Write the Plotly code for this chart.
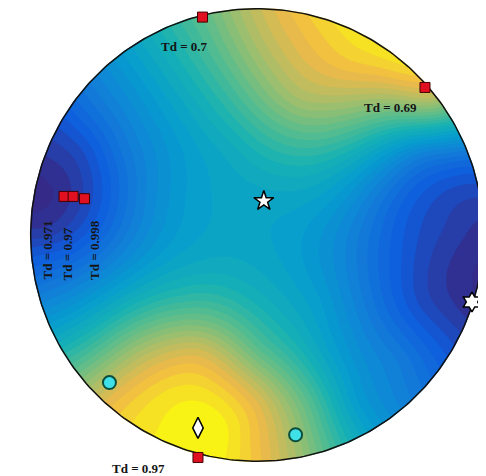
import numpy as np
import plotly.graph_objects as go

# ---- field readings on the unit stereonet (u, v, value 0..1 on colour scale)
field_u = [-0.88, 0.94, -0.23, 0.54, 0.03, -0.38, -0.24, 0.19, 0.76, 0.59, 0.19, -0.12,
           -0.47, -0.74, -0.78, -0.60, -0.38, -0.12, 0.19, 0.41, 0.72, 0.92, -0.69, -0.47,
           -0.25, 0.32, 0.63, 0.85, -0.96, -0.74, -0.52, -0.25, 0.01, 0.32, 0.63, -0.87,
           -0.60, -0.34, -0.03, 0.28, 0.63, 0.72, 0.85, -0.74, -0.52, -0.25, 0.01, 0.32,
           0.63, -0.65, -0.43, 0.01, 0.23, 0.45, -0.43, -0.03, 0.19, -0.93, -0.93, 0.89,
           0.00, 0.41, 0.35, 0.65, -0.10, -0.35, -0.23]
field_v = [0.20, -0.22, -0.84, 0.86, 0.15, 0.88, 0.95, 0.93, 0.59, 0.55, 0.59, 0.64,
           0.64, 0.55, 0.37, 0.37, 0.37, 0.37, 0.37, 0.37, 0.37, 0.33, 0.15, 0.15,
           0.15, 0.15, 0.11, 0.02, -0.07, -0.07, -0.07, -0.07, -0.07, -0.07, -0.11, -0.29,
           -0.29, -0.29, -0.29, -0.29, -0.33, -0.29, -0.42, -0.51, -0.51, -0.51, -0.51, -0.51,
           -0.55, -0.73, -0.73, -0.73, -0.73, -0.73, -0.90, -0.90, -0.90, 0.33, 0.02, -0.33,
           0.90, 0.75, 0.90, 0.70, -0.85, -0.85, -0.70]
field_val = [0.00, 0.00, 1.00, 0.97, 0.42, 0.52, 0.62, 0.88, 0.78, 0.66, 0.75, 0.58,
             0.38, 0.20, 0.08, 0.22, 0.35, 0.45, 0.55, 0.50, 0.28, 0.18, 0.12, 0.30,
             0.40, 0.38, 0.15, 0.06, 0.12, 0.18, 0.32, 0.42, 0.42, 0.32, 0.13, 0.30,
             0.45, 0.55, 0.50, 0.38, 0.15, 0.08, 0.08, 0.58, 0.75, 0.83, 0.62, 0.40,
             0.25, 0.86, 0.95, 0.84, 0.62, 0.36, 0.97, 0.90, 0.72, 0.03, 0.03, 0.03,
             0.78, 0.90, 0.93, 0.90, 0.96, 0.98, 0.95]

# ---- markers
square_u = [-0.24, 0.74, -0.85, -0.81, -0.76, -0.26]
square_v = [0.96, 0.65, 0.17, 0.17, 0.16, -0.98]
cyan_u = [-0.65, 0.17]
cyan_v = [-0.65, -0.88]
diamond_u = [-0.26]
diamond_v = [-0.85]
star_u = [0.03]
star_v = [0.15]
hexa_u = [0.947]
hexa_v = [-0.295]

labels_h = ["Td = 0.7", "Td = 0.69", "Td = 0.97"]
labels_h_u = [-0.32, 0.59, -0.52]
labels_h_v = [0.83, 0.56, -1.03]
labels_v = ["Td = 0.971", "Td = 0.97", "Td = 0.998"]
labels_v_u = [-0.925, -0.833, -0.714]
labels_v_v = [-0.207, -0.207, -0.207]

# ---- smooth surface through the readings (regularised thin plate spline)
pu = np.array(field_u); pv = np.array(field_v); pz = np.array(field_val)
def tps_kernel(d):
    with np.errstate(divide="ignore", invalid="ignore"):
        k = d**2 * np.log(d)
    return np.nan_to_num(k)
n = len(pu)
D = np.hypot(pu[:, None] - pu[None, :], pv[:, None] - pv[None, :])
K = tps_kernel(D) + 0.01 * np.eye(n)
P = np.column_stack([np.ones(n), pu, pv])
A = np.zeros((n + 3, n + 3))
A[:n, :n] = K; A[:n, n:] = P; A[n:, :n] = P.T
b = np.concatenate([pz, np.zeros(3)])
sol = np.linalg.solve(A, b)
w, a = sol[:n], sol[n:]

gx = np.linspace(-1.05, 1.05, 211)
gy = np.linspace(-1.05, 1.05, 211)
GX, GY = np.meshgrid(gx, gy)
Dg = np.hypot(GX.ravel()[:, None] - pu[None, :], GY.ravel()[:, None] - pv[None, :])
Z = tps_kernel(Dg) @ w + a[0] + a[1] * GX.ravel() + a[2] * GY.ravel()
Z = np.clip(Z.reshape(GX.shape), 0, 1)

parula = [[0.0, "rgb(53,42,135)"], [0.125, "rgb(15,92,221)"], [0.25, "rgb(18,125,216)"],
          [0.375, "rgb(7,156,207)"], [0.5, "rgb(21,177,180)"], [0.625, "rgb(89,189,140)"],
          [0.75, "rgb(165,190,107)"], [0.875, "rgb(240,185,70)"], [1.0, "rgb(249,251,14)"]]

fig = go.Figure()
fig.add_trace(go.Contour(x=gx, y=gy, z=Z, colorscale=parula, zmin=0, zmax=1,
                         contours=dict(start=0, end=1, size=1/32, coloring="fill"),
                         line=dict(width=0), showscale=False, hoverinfo="skip"))

# white mask outside the circle (keyhole polygon)
t = np.linspace(0, 2*np.pi, 361)
mx = [2, 2, -2, -2, 2, 2] + list(np.cos(-t)) + [2]
my = [0, 2, 2, -2, -2, 0] + list(np.sin(-t)) + [0]
fig.add_trace(go.Scatter(x=mx, y=my, mode="lines", fill="toself", fillcolor="white",
                         line=dict(width=0, color="white"), hoverinfo="skip"))
# circle outline
fig.add_trace(go.Scatter(x=np.cos(t) * 0.997, y=np.sin(t) * 0.997, mode="lines",
                         line=dict(color="#111111", width=1.5), hoverinfo="skip"))

fig.add_trace(go.Scatter(x=square_u, y=square_v, mode="markers", cliponaxis=False,
                         marker=dict(symbol="square", size=10, color="#e01020",
                                     line=dict(color="#400000", width=1))))
fig.add_trace(go.Scatter(x=cyan_u, y=cyan_v, mode="markers", cliponaxis=False,
                         marker=dict(symbol="circle", size=13, color="#40e0e8",
                                     line=dict(color="#0b4f3f", width=2))))
fig.add_trace(go.Scatter(x=diamond_u, y=diamond_v, mode="markers", cliponaxis=False,
                         marker=dict(symbol="diamond-tall", size=15, color="white",
                                     line=dict(color="black", width=1.5))))
fig.add_trace(go.Scatter(x=star_u, y=star_v, mode="markers", cliponaxis=False,
                         marker=dict(symbol="star", size=15, color="white",
                                     line=dict(color="black", width=1.5))))
fig.add_trace(go.Scatter(x=hexa_u, y=hexa_v, mode="markers", cliponaxis=False,
                         marker=dict(symbol="hexagram", size=15, color="white",
                                     line=dict(color="black", width=1.5))))

font = dict(family="Liberation Serif, Times New Roman, serif", size=13, color="#151515")
ann = []
for s, x, y in zip(labels_h, labels_h_u, labels_h_v):
    ann.append(dict(x=x, y=y, text="<b>%s</b>" % s, showarrow=False, font=font,
                    xanchor="center", yanchor="middle"))
for s, x, y in zip(labels_v, labels_v_u, labels_v_v):
    ann.append(dict(x=x, y=y, text="<b>%s</b>" % s, showarrow=False, font=font,
                    textangle=-90, xanchor="center", yanchor="bottom"))

# page body has an 8px margin: figure is sized/ranged so the disc lands where the reference has it
fig.update_layout(width=478, height=468, margin=dict(l=0, r=0, t=0, b=0),
                  paper_bgcolor="white", plot_bgcolor="white", showlegend=False,
                  annotations=ann,
                  xaxis=dict(range=[-1.0969, 1.0088], visible=False, fixedrange=True),
                  yaxis=dict(range=[-1.0617, 1.0000], visible=False, fixedrange=True))
fig.write_html("out.html")
